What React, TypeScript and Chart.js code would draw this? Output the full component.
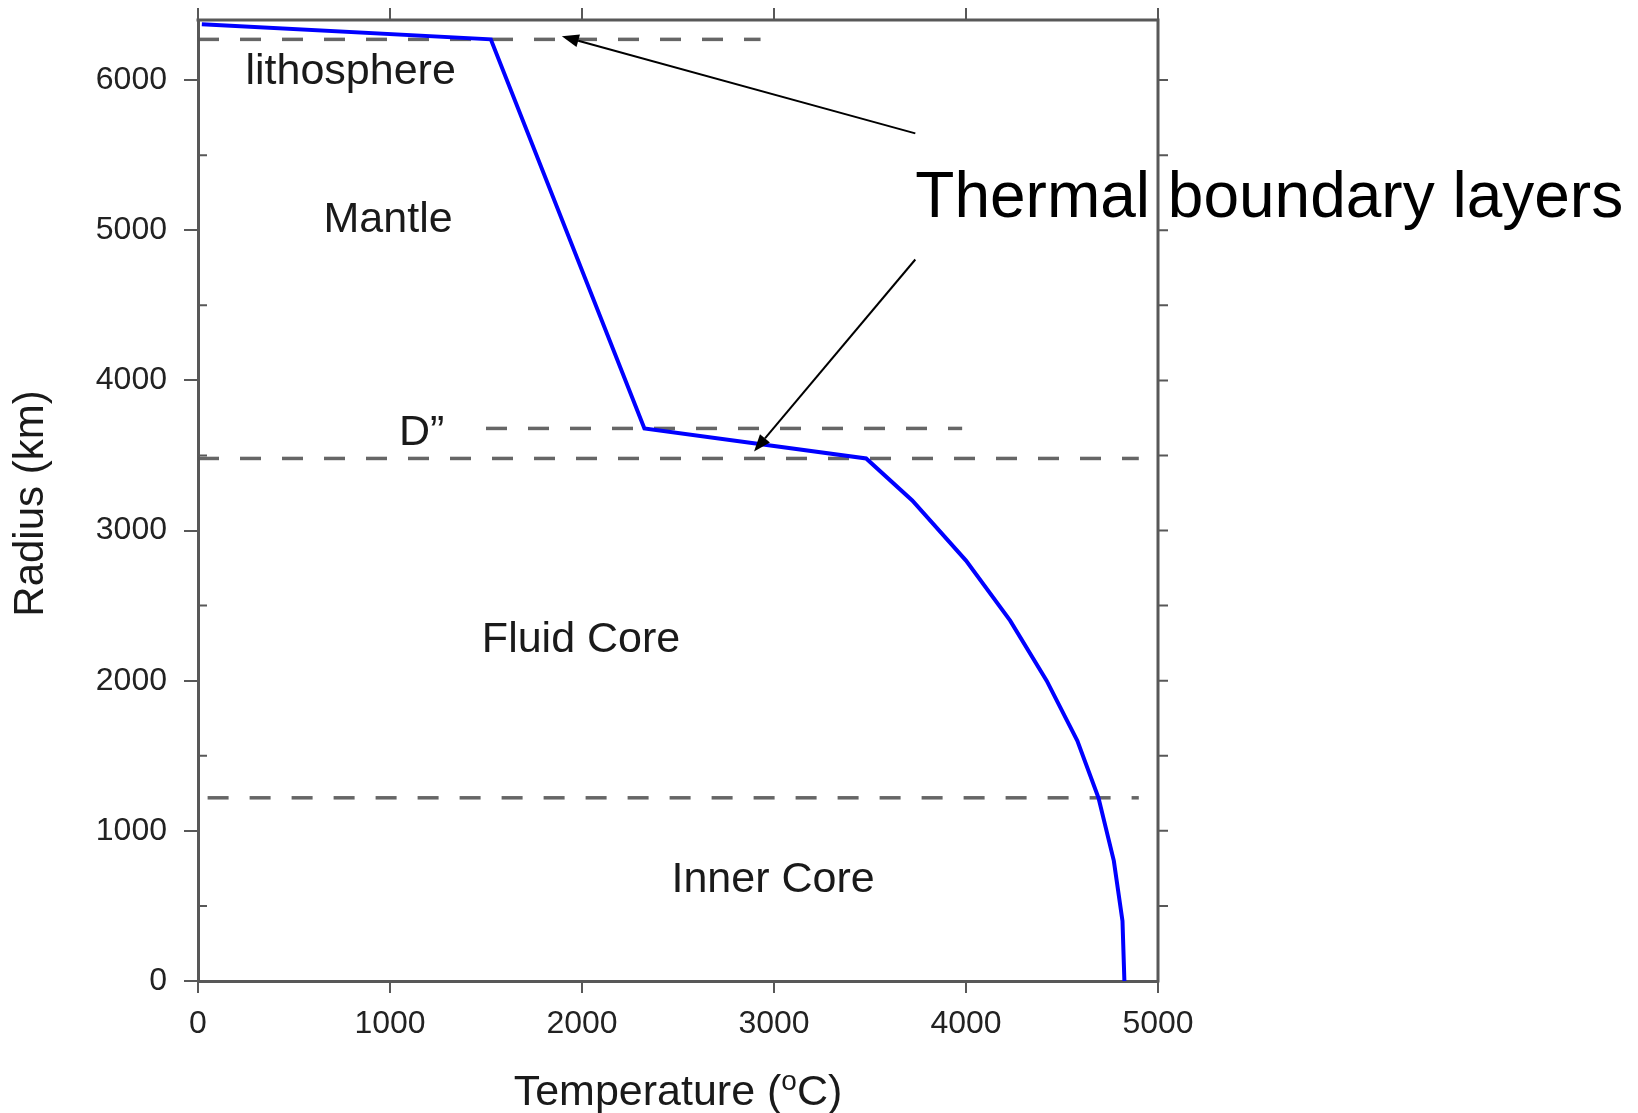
import React, { useEffect, useRef } from "react";
import { Chart, registerables } from "chart.js";

Chart.register(...registerables);

// Temperature profile (°C) versus radius (km)
const profileTemperature = [20, 1525, 2325, 3480, 3720, 4000, 4230, 4420, 4580, 4690, 4770, 4815, 4825];
const profileRadius = [6371, 6271, 3680, 3480, 3200, 2800, 2400, 2000, 1600, 1220, 800, 400, 0];

// Dashed boundaries: radius and horizontal extent in temperature units
const boundaryRadius = [6271, 3680, 3480, 1220];
const boundaryStart = [0, 1500, 0, 50];
const boundaryEnd = [2930, 3980, 4900, 4900];

// Region labels (centre position in data units)
const regionLabels = ["lithosphere", "Mantle", "D\u201D", "Fluid Core", "Inner Core"];
const regionLabelT = [795, 990, 1165, 1995, 2995];
const regionLabelR = [6056, 5070, 3647, 2270, 670];

// Annotation text and arrows
const annotationText = "Thermal boundary layers";
const annotationT = 3736;
const annotationR = 5205;
const arrowFromT = [3736, 3736];
const arrowFromR = [5645, 4805];
const arrowToT = [1895, 2896];
const arrowToR = [6292, 3527];

// Axes
const xMin = 0;
const xMax = 5000;
const yMin = 0;
const yMax = 6400;
const xTickValues = [0, 1000, 2000, 3000, 4000, 5000];
const yTickValues = [0, 1000, 2000, 3000, 4000, 5000, 6000];
const rightMinorTickValues = [500, 1000, 1500, 2000, 2500, 3000, 3500, 4000, 4500, 5000, 5500, 6000];
const leftMinorTickValues = [500, 1500, 2500, 3500, 4500, 5500];
const xTitleMain = "Temperature (";
const xTitleSup = "o";
const xTitleEnd = "C)";
const yTitle = "Radius (km)";

const FONT = "'Liberation Sans', Arial, Helvetica, sans-serif";
const AXIS_COLOR = "#585858";

const decorPlugin = {
  id: "decor",
  afterDraw(chart: any) {
    const { ctx, chartArea, scales } = chart;
    const xs = scales.x;
    const ys = scales.y;
    ctx.save();

    // top and right frame lines
    ctx.strokeStyle = AXIS_COLOR;
    ctx.lineWidth = 3;
    ctx.beginPath();
    ctx.moveTo(chartArea.left - 1.5, chartArea.top);
    ctx.lineTo(chartArea.right, chartArea.top);
    ctx.lineTo(chartArea.right, chartArea.bottom + 1.5);
    ctx.stroke();

    // frame ticks
    ctx.lineWidth = 2;
    ctx.beginPath();
    xTickValues.forEach((v) => {
      const px = xs.getPixelForValue(v);
      ctx.moveTo(px, chartArea.top);
      ctx.lineTo(px, chartArea.top - 12);
    });
    rightMinorTickValues.forEach((v) => {
      const py = ys.getPixelForValue(v);
      ctx.moveTo(chartArea.right, py);
      ctx.lineTo(chartArea.right + 10, py);
    });
    leftMinorTickValues.forEach((v) => {
      const py = ys.getPixelForValue(v);
      ctx.moveTo(chartArea.left, py);
      ctx.lineTo(chartArea.left + 9, py);
    });
    ctx.stroke();

    // region labels
    ctx.fillStyle = "#1a1a1a";
    ctx.font = `43px ${FONT}`;
    ctx.textAlign = "center";
    ctx.textBaseline = "middle";
    regionLabels.forEach((t, i) => {
      ctx.fillText(t, xs.getPixelForValue(regionLabelT[i]), ys.getPixelForValue(regionLabelR[i]));
    });

    // arrows
    ctx.strokeStyle = "#000";
    ctx.fillStyle = "#000";
    ctx.lineWidth = 2;
    arrowFromT.forEach((_, i) => {
      const x1 = xs.getPixelForValue(arrowFromT[i]);
      const y1 = ys.getPixelForValue(arrowFromR[i]);
      const x2 = xs.getPixelForValue(arrowToT[i]);
      const y2 = ys.getPixelForValue(arrowToR[i]);
      const ang = Math.atan2(y2 - y1, x2 - x1);
      const hl = 17;
      const hw = 6.5;
      const bx = x2 - hl * Math.cos(ang);
      const by = y2 - hl * Math.sin(ang);
      ctx.beginPath();
      ctx.moveTo(x1, y1);
      ctx.lineTo(bx, by);
      ctx.stroke();
      ctx.beginPath();
      ctx.moveTo(x2, y2);
      ctx.lineTo(bx + hw * Math.sin(ang), by - hw * Math.cos(ang));
      ctx.lineTo(bx - hw * Math.sin(ang), by + hw * Math.cos(ang));
      ctx.closePath();
      ctx.fill();
    });

    // annotation text
    ctx.font = `64px ${FONT}`;
    ctx.textAlign = "left";
    ctx.textBaseline = "middle";
    ctx.fillStyle = "#000";
    ctx.fillText(annotationText, xs.getPixelForValue(annotationT), ys.getPixelForValue(annotationR));

    // axis titles
    ctx.fillStyle = "#1a1a1a";
    const cx = (chartArea.left + chartArea.right) / 2;
    const tY = chartArea.bottom + 109;
    ctx.font = `43px ${FONT}`;
    const w1 = ctx.measureText(xTitleMain).width;
    const w3 = ctx.measureText(xTitleEnd).width;
    ctx.font = `28px ${FONT}`;
    const w2 = ctx.measureText(xTitleSup).width;
    let sx = cx - (w1 + w2 + w3) / 2;
    ctx.textAlign = "left";
    ctx.textBaseline = "alphabetic";
    const base = tY + 15;
    ctx.font = `43px ${FONT}`;
    ctx.fillText(xTitleMain, sx, base);
    sx += w1;
    ctx.font = `28px ${FONT}`;
    ctx.fillText(xTitleSup, sx, base - 15);
    sx += w2;
    ctx.font = `43px ${FONT}`;
    ctx.fillText(xTitleEnd, sx, base);

    ctx.save();
    ctx.translate(31, (chartArea.top + chartArea.bottom) / 2 + 3);
    ctx.rotate(-Math.PI / 2);
    ctx.textAlign = "center";
    ctx.textBaseline = "middle";
    ctx.font = `42px ${FONT}`;
    ctx.fillText(yTitle, 0, 0);
    ctx.restore();

    ctx.restore();
  },
};

export default function App() {
  const canvasRef = useRef<HTMLCanvasElement | null>(null);

  useEffect(() => {
    document.body.style.margin = "0";
    const canvas = canvasRef.current;
    if (!canvas) return;

    const profileData = profileTemperature.map((t, i) => ({ x: t, y: profileRadius[i] }));
    const boundaryDatasets = boundaryRadius.map((r, i) => ({
      label: `boundary${i}`,
      data: [
        { x: boundaryStart[i], y: r },
        { x: boundaryEnd[i], y: r },
      ],
      showLine: true,
      borderColor: "rgba(85,85,85,0.9)",
      borderWidth: 3.5,
      borderDash: [21, 21],
      pointRadius: 0,
      order: 2,
    }));

    const chart = new Chart(canvas, {
      type: "scatter",
      data: {
        datasets: [
          {
            label: "Temperature",
            data: profileData,
            showLine: true,
            borderColor: "#0000ff",
            borderWidth: 4,
            pointRadius: 0,
            order: 1,
          },
          ...boundaryDatasets,
        ],
      },
      options: {
        animation: false,
        responsive: false,
        events: [],
        layout: { padding: { top: 20, right: 480, left: 0, bottom: 0 } },
        plugins: { legend: { display: false }, tooltip: { enabled: false } },
        scales: {
          x: {
            type: "linear",
            min: xMin,
            max: xMax,
            afterFit: (s: any) => {
              s.height = 132;
              s.paddingLeft = 0;
              s.paddingRight = 0;
              s.paddingTop = 0;
              s.paddingBottom = 0;
            },
            afterBuildTicks: (s: any) => {
              s.ticks = xTickValues.map((v) => ({ value: v }));
            },
            ticks: {
              autoSkip: false,
              color: "#222",
              font: { family: FONT, size: 32 },
              padding: 12,
              maxRotation: 0,
              callback: (v: any) => String(v),
            },
            grid: {
              display: true,
              drawOnChartArea: false,
              drawTicks: true,
              tickLength: 12,
              color: AXIS_COLOR,
              lineWidth: 2,
            },
            border: { display: true, color: AXIS_COLOR, width: 3 },
          },
          y: {
            type: "linear",
            min: yMin,
            max: yMax,
            afterFit: (s: any) => {
              s.width = 198;
              s.paddingLeft = 0;
              s.paddingRight = 0;
              s.paddingTop = 0;
              s.paddingBottom = 0;
            },
            afterBuildTicks: (s: any) => {
              s.ticks = yTickValues.map((v) => ({ value: v }));
            },
            ticks: {
              autoSkip: false,
              color: "#222",
              font: { family: FONT, size: 32 },
              padding: 17,
              callback: (v: any) => String(v),
            },
            grid: {
              display: true,
              drawOnChartArea: false,
              drawTicks: true,
              tickLength: 14,
              color: AXIS_COLOR,
              lineWidth: 2,
            },
            border: { display: true, color: AXIS_COLOR, width: 3 },
          },
        },
      },
      plugins: [decorPlugin],
    });

    return () => chart.destroy();
  }, []);

  return (
    <div style={{ position: "fixed", left: 0, top: 0, width: 1638, height: 1113, background: "#fff" }}>
      <canvas ref={canvasRef} width={1638} height={1113} style={{ display: "block" }} />
    </div>
  );
}
